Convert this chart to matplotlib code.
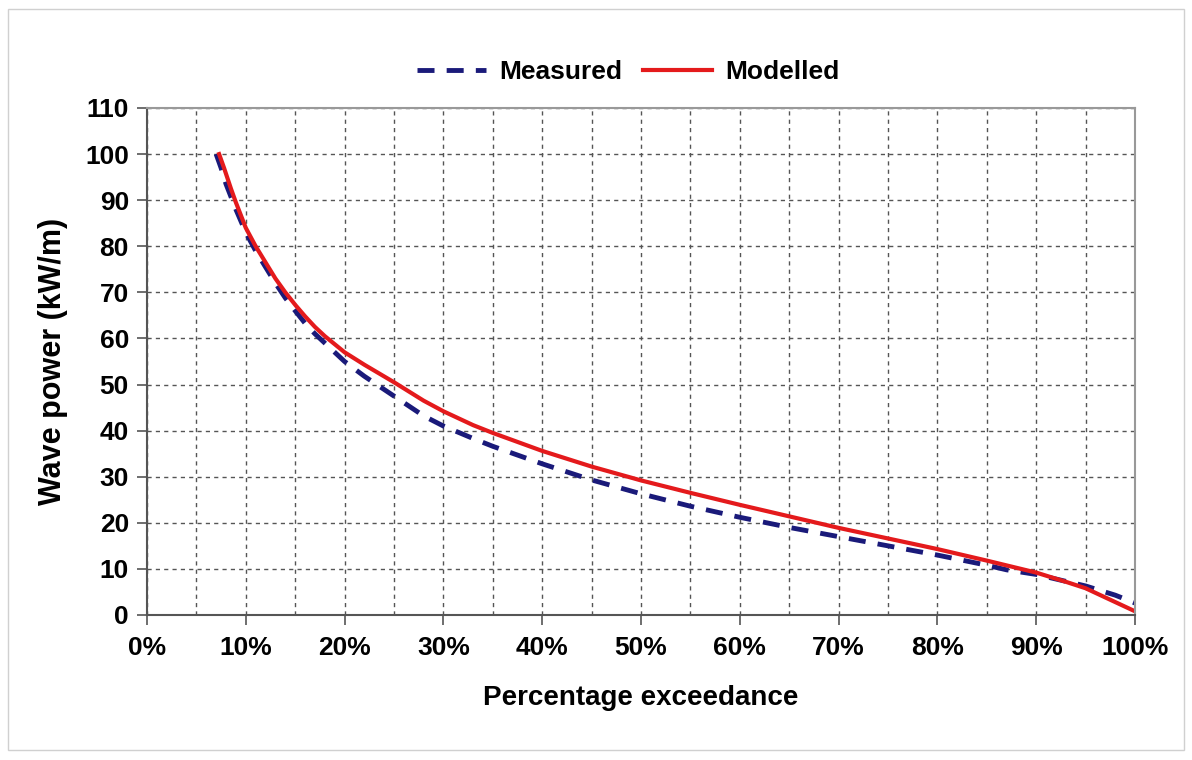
import numpy as np
import matplotlib.pyplot as plt
from matplotlib.ticker import MultipleLocator, FuncFormatter
from matplotlib.patches import Rectangle

plt.rcParams['font.family'] = ['Liberation Sans', 'DejaVu Sans']
plt.rcParams['font.weight'] = 'bold'

# exceedance (%) and wave power (kW/m)
meas_pct = [7, 7.5, 8, 9, 10, 11, 12, 13, 14, 15, 16, 17, 18, 20, 22, 25, 28, 30, 33, 35,
            40, 45, 50, 55, 60, 65, 70, 75, 80, 85, 87, 90, 93, 95, 98, 100]
meas_kw = [100, 97, 93.5, 88, 83, 79, 75.5, 72, 68.8, 66, 63.3, 61, 59, 55, 51.8, 47.5, 43.2, 41, 38.3, 36.6,
           32.8, 29.3, 26.3, 23.6, 21.2, 19, 17, 15, 13, 10.8, 9.8, 8.8, 7.3, 6.3, 4.3, 2.6]

mod_pct = [7.3, 7.8, 8.5, 9, 10, 11, 12, 13, 14, 15, 16, 17, 18, 20, 22, 25, 28, 30, 33, 35,
           40, 45, 50, 55, 60, 65, 70, 75, 80, 85, 90, 93, 95, 97, 99, 100]
mod_kw = [100, 97, 92.5, 89.5, 84, 80, 76.5, 73, 70, 67.3, 64.8, 62.5, 60.5, 57, 54.3, 50.5, 46.5, 44.2, 41.2, 39.5,
          35.6, 32.2, 29.2, 26.5, 23.9, 21.4, 18.9, 16.6, 14.3, 11.8, 9.2, 7.2, 5.8, 3.8, 1.8, 0.8]

fig = plt.figure(figsize=(11.92, 7.6), dpi=100)
fig.patches.append(Rectangle((0.007, 0.013), 0.986, 0.975, transform=fig.transFigure,
                             fill=False, edgecolor='#d0d0d0', linewidth=1))
ax = fig.add_axes([0.1233, 0.1908, 0.8289, 0.6671])

ax.plot(meas_pct, meas_kw, color='#1a1a7a', linewidth=3.5, dashes=(3.5, 2.5), label='Measured')
ax.plot(mod_pct, mod_kw, color='#e41a1c', linewidth=3, label='Modelled')

ax.set_xlim(0, 100)
ax.set_ylim(0, 110)
ax.xaxis.set_major_locator(MultipleLocator(10))
ax.xaxis.set_minor_locator(MultipleLocator(5))
ax.yaxis.set_major_locator(MultipleLocator(10))
ax.xaxis.set_major_formatter(FuncFormatter(lambda v, p: f'{v:.0f}%'))

ax.grid(True, which='both', axis='x', color='#555555', linestyle=(0, (3, 3)), linewidth=1)
ax.grid(True, which='major', axis='y', color='#555555', linestyle=(0, (3, 3)), linewidth=1)
ax.tick_params(axis='x', which='minor', length=0)
ax.tick_params(axis='both', which='major', labelsize=19, length=7, width=1.2, color='#555555')
ax.tick_params(axis='x', pad=8)
ax.tick_params(axis='y', pad=6)

for s in ['left', 'bottom']:
    ax.spines[s].set_color('#555555')
    ax.spines[s].set_linewidth(1.5)
for s in ['top', 'right']:
    ax.spines[s].set_color('#999999')
    ax.spines[s].set_linewidth(1.5)

ax.set_xlabel('Percentage exceedance', fontsize=20, fontweight='bold', labelpad=18)
ax.set_ylabel('Wave power (kW/m)', fontsize=22, fontweight='bold', labelpad=12)

ax.legend(loc='lower center', bbox_to_anchor=(0.487, 1.0), ncol=2, frameon=False,
          handlelength=2.6, columnspacing=0.8, handletextpad=0.5,
          prop={'weight': 'bold', 'size': 19})

fig.savefig('out.png', dpi=100, facecolor='white')
